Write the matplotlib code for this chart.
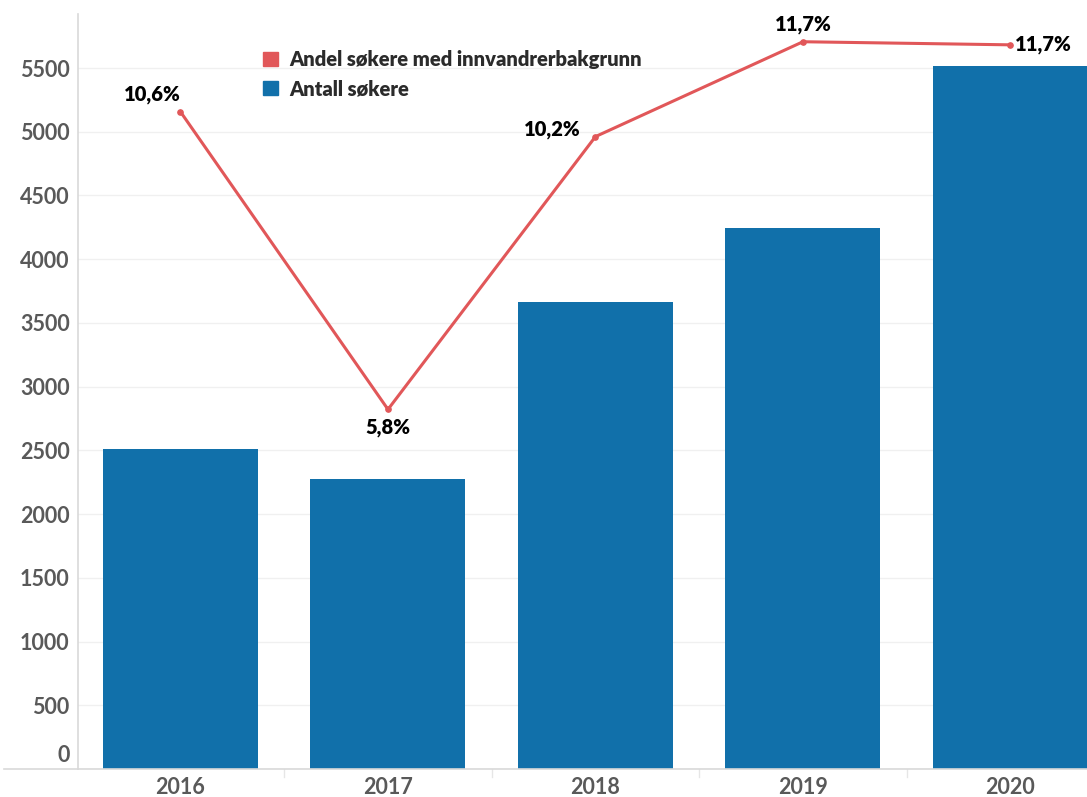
# -*- coding: utf-8 -*-
import matplotlib
matplotlib.use('Agg')
import matplotlib.pyplot as plt
import matplotlib.patches as mpatches
import matplotlib.transforms as mtransforms
import numpy as np

years = ['2016', '2017', '2018', '2019', '2020']
antall = [2511, 2275, 3664, 4245, 5516]
andel = [10.6, 5.8, 10.2, 11.73, 11.68]
yticks = [0, 500, 1000, 1500, 2000, 2500, 3000, 3500, 4000, 4500, 5000, 5500]

bar_color = '#1170aa'
line_color = '#e15759'
tick_color = '#595959'
font = ['Lato', 'DejaVu Sans']
plt.rcParams['font.family'] = font

fig = plt.figure(figsize=(10.87, 7.97), dpi=100)
ax = fig.add_axes([78 / 1087, 28 / 797, 1009 / 1087, 755 / 797])
x = np.arange(len(years))

ax.bar(x, antall, width=0.747, color=bar_color, zorder=2)
ax.set_xlim(-0.494, 4.369)
ax.set_ylim(0, 5924)
ax.set_yticks(yticks)
ax.set_yticklabels([str(v) for v in yticks])
ax.set_xticks(x)
ax.set_xticklabels(years)
ax.tick_params(axis='both', length=0, labelsize=15.5, labelcolor=tick_color)
ax.tick_params(axis='y', pad=6)
ax.tick_params(axis='x', pad=6)
for lab in ax.get_yticklabels() + ax.get_xticklabels():
    lab.set_fontweight('bold')
# 0 label sits above the axis line in the original
zero = ax.get_yticklabels()[0]
zero.set_transform(zero.get_transform() + mtransforms.ScaledTranslation(0, 15 / 100, fig.dpi_scale_trans))

ax.grid(axis='y', color='#f0f0f0', linewidth=1, zorder=0)
for s in ['top', 'right']:
    ax.spines[s].set_visible(False)
ax.spines['left'].set_color('#d9d9d9')
ax.spines['bottom'].set_color('#d9d9d9')
ax.spines['left'].set_linewidth(1.2)
ax.spines['bottom'].set_linewidth(1.2)
# axis line reaches past the y axis, small ticks between categories
ax.plot([-0.85, -0.494], [0, 0], color='#d9d9d9', lw=1.2, clip_on=False)
for b in x[:-1] + 0.5:
    ax.plot([b, b], [0, -60], color='#e6e6e6', lw=1, clip_on=False)

ax2 = ax.twinx()
ax2.set_ylim(0, 755 / 62)
ax2.axis('off')
ax2.plot(x, andel, color=line_color, lw=2.2, marker='o', markersize=3.8, zorder=3)

offsets = [(-28, 17), (0, -18), (-43, 7), (0, 17), (5, 0)]
for i, v in enumerate(andel):
    dx, dy = offsets[i]
    ax2.annotate(f'{v:.1f}%'.replace('.', ','), (x[i], v),
                 xytext=(dx * 0.72, dy * 0.72), textcoords='offset points',
                 ha='left' if i == 4 else 'center', va='center',
                 fontsize=14.5, fontweight='heavy', color='black', family=font)

handles = [mpatches.Patch(color=line_color, label='Andel søkere med innvandrerbakgrunn'),
           mpatches.Patch(color=bar_color, label='Antall søkere')]
leg = ax.legend(handles=handles, loc='upper left',
                bbox_to_anchor=((263 - 78) / 1009, (769 - 50) / 755),
                frameon=False, borderpad=0, borderaxespad=0,
                handlelength=0.75, handleheight=0.75, handletextpad=0.55,
                labelspacing=0.5, prop={'family': font, 'weight': 'heavy', 'size': 14.5})
for t in leg.get_texts():
    t.set_color('#2b2b2b')

fig.savefig('out.png', dpi=100)
